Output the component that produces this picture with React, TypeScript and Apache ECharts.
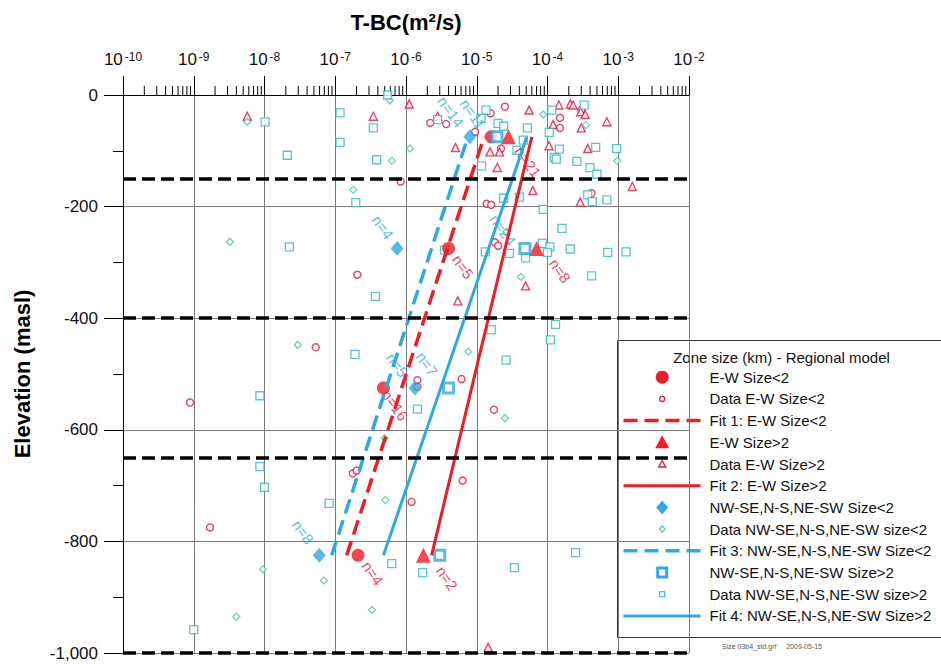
import React, { useEffect, useRef } from 'react';
import * as echarts from 'echarts';

const FONT = '"Liberation Sans", Arial, Helvetica, sans-serif';
const RED = '#ee1c25';
const RED_PT = '#e3123f';
const CYAN = '#2eaae1';
const CYAN_SQ = '#2fb5c6';
const CYAN_DM = '#4ec2b0';

// axis ticks
const xExponents = [-10, -9, -8, -7, -6, -5, -4, -3, -2];
const minorMultipliers = [2, 3, 4, 5, 6, 7, 8, 9];
const yTickLabels = ['0', '-200', '-400', '-600', '-800', '-1,000'];
const zoneBoundaries = [-150, -400, -650, -1000];

// series names
const names = [
  'E-W Size<2',
  'Data E-W Size<2',
  'Fit 1: E-W Size<2',
  'E-W Size>2',
  'Data E-W Size>2',
  'Fit 2: E-W Size>2',
  'NW-SE,N-S,NE-SW Size<2',
  'Data NW-SE,N-S,NE-SW size<2',
  'Fit 3: NW-SE,N-S,NE-SW Size<2',
  'NW-SE,N-S,NE-SW Size>2',
  'Data NW-SE,N-S,NE-SW size>2',
  'Fit 4: NW-SE,N-S,NE-SW Size>2',
];

// representative values per zone [T (m2/s), elevation (masl)]
const ewSmall = [[1.6e-5, -75], [4.0e-6, -275], [4.8e-7, -525], [2.1e-7, -825]];
const ewLarge = [[2.8e-5, -75], [7.0e-5, -275], [1.76e-6, -825]];
const nsSmall = [[8.0e-6, -75], [7.5e-7, -275], [1.34e-6, -525], [5.95e-8, -825]];
const nsLarge = [[1.93e-5, -75], [4.8e-5, -275], [4.0e-6, -525], [3.0e-6, -825]];

// fits
const fit1 = [[1.45e-7, -825], [1.27e-5, -75]];
const fit2 = [[2.3e-6, -825], [6.0e-5, -75]];
const fit3 = [[8.9e-8, -825], [7.5e-6, -75]];
const fit4 = [[4.8e-7, -825], [5.1e-5, -75]];

// data points
const ewSmallData = [
  [2.2e-6, -50], [3.7e-6, -52], [1.57e-5, -33], [2.5e-5, -21], [9.5e-6, -66], [2.2e-5, -96],
  [1.5e-4, -41], [1.5e-4, -59], [3.0e-4, -27], [8.4e-7, -155], [1.38e-5, -195], [1.6e-5, -197],
  [4.2e-4, -176], [1.8e-5, -264], [2.0e-5, -270], [2.05e-7, -322], [5.3e-8, -452], [8.85e-10, -551],
  [6.1e-6, -509], [1.45e-6, -511], [1.45e-6, -523], [1.75e-5, -564], [1.77e-7, -678], [2.0e-7, -673],
  [1.7e-9, -775], [1.2e-6, -729], [6.3e-6, -691],
];
const ewLargeData = [
  [5.7e-9, -38], [3.45e-7, -38], [1.11e-6, -16], [2.8e-6, -38], [5.5e-5, -27], [1.45e-4, -18],
  [2.1e-4, -16], [2.3e-4, -18], [2.95e-4, -30], [3.4e-4, -35], [1.2e-4, -53], [3.0e-4, -59],
  [6.9e-4, -48], [5.0e-6, -94], [1.54e-5, -102], [2.1e-5, -102], [1.95e-5, -130], [1.05e-4, -91],
  [3.7e-4, -96], [1.58e-3, -164], [6.2e-5, -171], [2.9e-4, -192], [5.4e-6, -369], [4.9e-5, -342],
  [1.45e-5, -990],
];
const nsSmallData = [
  [5.7e-9, -48], [6.3e-7, -118], [5.9e-7, -10], [1.8e-7, -170], [3.25e-9, -263], [1.14e-6, -96],
  [8.7e-5, -35], [3.5e-4, -54], [9.7e-4, -118], [2.6e-5, -245], [4.2e-5, -326], [2.95e-8, -448],
  [7.6e-6, -460], [2.5e-5, -579], [5.0e-7, -615], [5.1e-7, -726], [9.5e-9, -850], [6.9e-8, -870],
  [3.3e-7, -923], [4.0e-9, -935],
];
const nsLargeData = [
  [1.02e-8, -48], [2.1e-8, -108], [1.17e-7, -32], [3.45e-7, -59], [1.17e-7, -85], [3.85e-7, -116],
  [1.95e-7, -193], [5.5e-7, 0], [2.24e-8, -272], [2.8e-6, -44], [1.35e-5, -27], [1.15e-5, -42],
  [2.0e-5, -51], [2.4e-5, -56], [1.15e-4, -27], [3.3e-4, -18], [5.2e-5, -59], [4.55e-5, -81],
  [3.7e-5, -99], [1.06e-4, -67], [1.47e-4, -97], [1.25e-4, -112], [1.33e-4, -115], [2.6e-4, -119],
  [4.8e-4, -94], [9.5e-4, -96], [4.0e-4, -130], [5.0e-4, -142], [1.17e-5, -127], [4.0e-5, -183],
  [2.4e-5, -185], [8.7e-5, -205], [3.7e-4, -179], [4.3e-4, -191], [6.9e-4, -188], [1.6e-4, -239],
  [8.5e-5, -266], [1.08e-4, -272], [2.1e-4, -276], [7.1e-4, -282], [1.29e-3, -281], [1.32e-5, -281],
  [2.9e-5, -284], [4.9e-5, -292], [1.0e-4, -282], [4.2e-4, -324], [3.5e-6, -278], [3.7e-7, -361],
  [1.9e-7, -465], [8.6e-9, -539], [8.6e-9, -666], [1.6e-5, -421], [1.3e-4, -411], [1.1e-4, -439],
  [2.6e-5, -475], [1.45e-6, -563], [1.0e-8, -703], [8.2e-8, -732], [6.3e-7, -840], [1.0e-9, -958],
  [1.72e-6, -856], [3.4e-5, -847], [2.5e-4, -820],
];

// sample-count annotations
const nLabelTexts = ['n=14', 'n=11', 'n=21', 'n=8', 'n=24', 'n=5', 'n=4', 'n=5', 'n=7', 'n=16', 'n=8', 'n=4', 'n=2'];
const nLabelPositions = [
  [4.3e-6, -30], [8.85e-6, -34], [5.3e-5, -120], [1.5e-4, -315], [2.35e-5, -242], [6.4e-6, -308],
  [4.7e-7, -237], [7.5e-7, -484], [1.98e-6, -482], [7.0e-7, -556], [3.5e-8, -783], [3.4e-7, -857],
  [3.8e-6, -866],
];
const nLabelIsRed = [false, false, true, true, false, true, false, false, false, true, false, true, true];

const legendKinds = [
  'bigCircle', 'smallCircle', 'dashRed', 'bigTri', 'smallTri', 'solidRed',
  'bigDiamond', 'smallDiamond', 'dashCyan', 'bigSquare', 'smallSquare', 'solidCyan',
];

function legendIcon(kind: string, cx: number, cy: number): any {
  switch (kind) {
    case 'bigCircle':
      return { type: 'circle', shape: { cx, cy, r: 6.5 }, style: { fill: RED } };
    case 'smallCircle':
      return { type: 'circle', shape: { cx, cy, r: 2.6 }, style: { fill: '#fff', stroke: RED_PT, lineWidth: 1.3 } };
    case 'dashRed':
      return { type: 'line', shape: { x1: 6, y1: cy, x2: 83, y2: cy }, style: { stroke: RED, lineWidth: 3.5, lineDash: [14, 7] } };
    case 'solidRed':
      return { type: 'line', shape: { x1: 6, y1: cy, x2: 83, y2: cy }, style: { stroke: RED, lineWidth: 3 } };
    case 'bigTri':
      return { type: 'polygon', shape: { points: [[cx, cy - 7], [cx - 7, cy + 6], [cx + 7, cy + 6]] }, style: { fill: RED } };
    case 'smallTri':
      return { type: 'polygon', shape: { points: [[cx, cy - 3.5], [cx - 3.5, cy + 3], [cx + 3.5, cy + 3]] }, style: { fill: '#fff', stroke: RED_PT, lineWidth: 1.3 } };
    case 'bigDiamond':
      return { type: 'polygon', shape: { points: [[cx, cy - 7], [cx + 6, cy], [cx, cy + 7], [cx - 6, cy]] }, style: { fill: CYAN } };
    case 'smallDiamond':
      return { type: 'polygon', shape: { points: [[cx, cy - 3.2], [cx + 2.8, cy], [cx, cy + 3.2], [cx - 2.8, cy]] }, style: { fill: '#fff', stroke: CYAN_DM, lineWidth: 1.2 } };
    case 'dashCyan':
      return { type: 'line', shape: { x1: 6, y1: cy, x2: 83, y2: cy }, style: { stroke: CYAN, lineWidth: 3.5, lineDash: [14, 7] } };
    case 'solidCyan':
      return { type: 'line', shape: { x1: 6, y1: cy, x2: 83, y2: cy }, style: { stroke: CYAN, lineWidth: 3 } };
    case 'bigSquare':
      return { type: 'rect', shape: { x: cx - 4.5, y: cy - 4.5, width: 9, height: 9 }, style: { fill: '#fff', stroke: CYAN, lineWidth: 3 } };
    case 'smallSquare':
    default:
      return { type: 'rect', shape: { x: cx - 2.5, y: cy - 2.5, width: 5, height: 5 }, style: { fill: '#fff', stroke: CYAN_SQ, lineWidth: 1.1 } };
  }
}

function buildLegend(): any {
  const children: any[] = [
    { type: 'rect', shape: { x: 0, y: 0, width: 340, height: 297 }, style: { fill: '#fff', stroke: '#333', lineWidth: 1 } },
    {
      type: 'text', x: 164, y: 17,
      style: { text: 'Zone size (km) - Regional model', fontSize: 15, fontFamily: FONT, fill: '#111', align: 'center', verticalAlign: 'middle' },
    },
  ];
  names.forEach((nm, i) => {
    const cy = 36.7 + i * 21.7;
    children.push(legendIcon(legendKinds[i], 44.7, cy));
    children.push({
      type: 'text', x: 92, y: cy,
      style: { text: nm, fontSize: 15, fontFamily: FONT, fill: '#111', align: 'left', verticalAlign: 'middle' },
    });
  });
  return { type: 'group', left: 617, top: 340, children };
}

export default function App() {
  const ref = useRef<HTMLDivElement>(null);
  useEffect(() => {
    if (!ref.current) return;
    const chart = echarts.init(ref.current, null, { renderer: 'svg' });

    const minorTicks: number[][] = [];
    xExponents.slice(0, -1).forEach((e) => {
      minorMultipliers.forEach((k) => minorTicks.push([k * Math.pow(10, e), 0]));
    });

    const hollow = (c: string, w = 1.3) => ({ color: '#fff', borderColor: c, borderWidth: w });

    const option: any = {
      animation: false,
      backgroundColor: '#fff',
      textStyle: { fontFamily: FONT },
      grid: { left: 123, top: 95, width: 566, height: 558 },
      xAxis: {
        type: 'log',
        logBase: 10,
        min: 1e-10,
        max: 1e-2,
        splitNumber: 8,
        position: 'top',
        name: 'T-BC(m²/s)',
        nameLocation: 'middle',
        nameGap: 62,
        nameTextStyle: { fontSize: 22, fontWeight: 'bold', color: '#000', fontFamily: FONT },
        axisLine: { show: true, lineStyle: { color: '#000', width: 1 } },
        axisTick: { show: true, inside: false, length: 19, lineStyle: { color: '#000', width: 1 } },
        axisLabel: {
          margin: 27,
          showMinLabel: true,
          showMaxLabel: true,
          formatter: (v: number) => {
            const e = Math.round(Math.log10(v));
            const idx = xExponents.indexOf(e);
            return idx >= 0 ? `{b|10}{s|${xExponents[idx]}}` : '';
          },
          rich: {
            b: { fontSize: 17, color: '#111', fontFamily: FONT, verticalAlign: 'bottom', lineHeight: 17 },
            s: { fontSize: 12, color: '#111', fontFamily: FONT, verticalAlign: 'top', lineHeight: 12, padding: [0, 0, 10, 2] },
          },
        },
        splitLine: { show: true, lineStyle: { color: '#7a7a7a', width: 1 } },
      },
      yAxis: {
        type: 'value',
        min: -1000,
        max: 0,
        interval: 200,
        name: 'Elevation (masl)',
        nameLocation: 'middle',
        nameRotate: 90,
        nameGap: 90,
        nameTextStyle: { fontSize: 22, fontWeight: 'bold', color: '#000', fontFamily: FONT },
        axisLine: { show: true, onZero: false, lineStyle: { color: '#000', width: 1 } },
        axisTick: { show: true, length: 19, lineStyle: { color: '#000', width: 1 } },
        minorTick: { show: true, splitNumber: 2, length: 10, lineStyle: { color: '#000', width: 1 } },
        axisLabel: {
          fontSize: 17,
          color: '#111',
          margin: 25,
          formatter: (v: number) => yTickLabels[Math.round(-v / 200)] ?? String(v),
        },
        splitLine: { show: true, lineStyle: { color: '#7a7a7a', width: 1 } },
      },
      graphic: [
        buildLegend(),
        {
          type: 'text', left: 722, top: 643,
          style: { text: 'Size 03b4_std.grf     2009-05-15', fontSize: 7, fontFamily: FONT, fill: '#555' },
        },
      ],
      series: [
        {
          name: 'minor-ticks',
          type: 'custom',
          silent: true,
          clip: false,
          data: minorTicks,
          encode: { x: 0, y: 1 },
          renderItem: (params: any, api: any) => {
            const p = api.coord([api.value(0), api.value(1)]);
            return {
              type: 'line',
              shape: { x1: p[0], y1: p[1], x2: p[0], y2: p[1] - 9 },
              style: { stroke: '#000', lineWidth: 1 },
            };
          },
        },
        {
          name: 'zones',
          type: 'scatter',
          data: [],
          silent: true,
          markLine: {
            silent: true,
            symbol: 'none',
            label: { show: false },
            lineStyle: { color: '#000', width: 3.5, type: [13, 6] },
            data: zoneBoundaries.map((z) => ({ yAxis: z })),
          },
        },
        { name: names[1], type: 'scatter', symbol: 'circle', symbolSize: 7, itemStyle: hollow(RED_PT, 1.4), data: ewSmallData },
        { name: names[4], type: 'scatter', symbol: 'triangle', symbolSize: 8, itemStyle: hollow(RED_PT, 1.4), data: ewLargeData },
        { name: names[7], type: 'scatter', symbol: 'diamond', symbolSize: 7, itemStyle: hollow(CYAN_DM, 1.3), data: nsSmallData },
        { name: names[10], type: 'scatter', symbol: 'rect', symbolSize: 8, itemStyle: hollow(CYAN_SQ, 1.3), data: nsLargeData },
        { name: names[2], type: 'line', showSymbol: false, lineStyle: { color: RED, width: 3.5, type: [15, 7] }, data: fit1 },
        { name: names[5], type: 'line', showSymbol: false, lineStyle: { color: RED, width: 3 }, data: fit2 },
        { name: names[8], type: 'line', showSymbol: false, lineStyle: { color: CYAN, width: 3.5, type: [15, 7] }, data: fit3 },
        { name: names[11], type: 'line', showSymbol: false, lineStyle: { color: CYAN, width: 3 }, data: fit4 },
        { name: names[0], type: 'scatter', symbol: 'circle', symbolSize: 13, itemStyle: { color: RED }, data: ewSmall },
        { name: names[3], type: 'scatter', symbol: 'triangle', symbolSize: 15, itemStyle: { color: RED }, data: ewLarge },
        { name: names[6], type: 'scatter', symbol: 'diamond', symbolSize: [13, 15], itemStyle: { color: CYAN }, data: nsSmall },
        { name: names[9], type: 'scatter', symbol: 'rect', symbolSize: 10, itemStyle: { color: '#fff', borderColor: CYAN, borderWidth: 3 }, data: nsLarge },
        {
          name: 'n-labels',
          type: 'scatter',
          symbolSize: 1,
          silent: true,
          itemStyle: { color: 'transparent' },
          data: nLabelPositions.map((p, i) => ({
            value: p,
            label: {
              show: true,
              position: 'inside',
              formatter: nLabelTexts[i],
              rotate: -55,
              fontSize: 15,
              fontFamily: FONT,
              color: nLabelIsRed[i] ? RED_PT : CYAN,
            },
          })),
        },
      ],
    };
    chart.setOption(option);
    return () => chart.dispose();
  }, []);

  return <div ref={ref} style={{ position: 'fixed', left: 0, top: 0, width: 941, height: 664, background: '#fff' }} />;
}
